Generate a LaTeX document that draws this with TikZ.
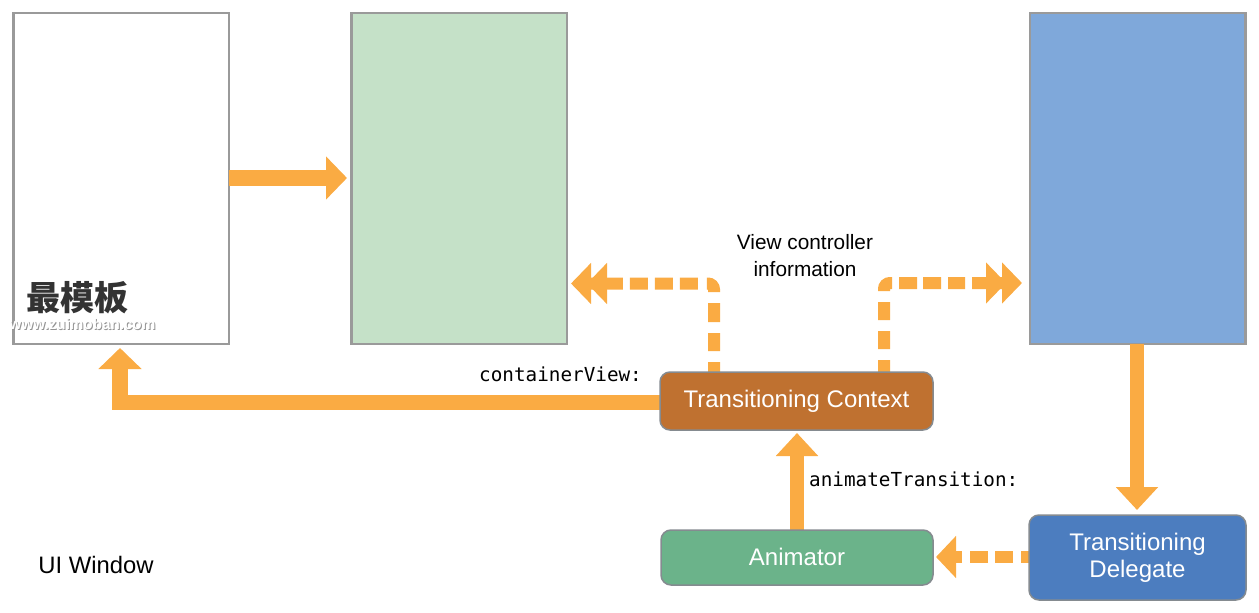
\documentclass[tikz,border=0pt]{standalone}
\usepackage{fontspec}
\setmainfont{Liberation Sans}
\setmonofont{DejaVu Sans Mono}
\newfontfamily\cjkfont{Noto Sans CJK SC}
\usetikzlibrary{arrows.meta,calc}
\definecolor{arrowc}{HTML}{FAAB43}
\definecolor{boxedge}{HTML}{9A9A9A}
\definecolor{roundedge}{HTML}{858B90}
\tikzset{
  x=1pt,y=-1pt,
  viewbox/.style={draw=boxedge,line width=2.5pt,minimum width=215.5pt,minimum height=331pt,inner sep=0pt,outer sep=0pt},
  rolebox/.style={draw=roundedge,line width=1.5pt,rounded corners=10pt,text=white,align=center,font=\fontsize{24}{27}\selectfont,inner sep=0pt,outer sep=0pt},
  label/.style={inner sep=0pt,align=center,font=\fontsize{20.8}{27}\selectfont},
  codelabel/.style={inner sep=0pt,font=\ttfamily\fontsize{19.3}{23}\selectfont},
  bigflow/.style={draw=arrowc,line width=15.5pt,-{Triangle[length=21pt,width=42pt]}},
  smallflow/.style={draw=arrowc,line width=14.5pt,-{Triangle[length=23pt,width=41pt]}},
  infoflow/.style={draw=arrowc,line width=12pt,rounded corners=6pt,-{Triangle[length=20pt,width=40pt,sep=-4pt]Triangle[length=20pt,width=40pt]}},
}
\begin{document}
\begin{tikzpicture}
\useasboundingbox (0,0) rectangle (1259,613);
% view boxes
\node[viewbox,fill=white] (fromview) at (121,178.5) {};
\node[viewbox,fill={rgb,255:red,197;green,225;blue,200}] (toview) at (459,178.5) {};
\node[viewbox,fill={rgb,255:red,127;green,168;blue,218}] (presenting) at (1137.5,178.5) {};
% free ends
\coordinate (tochead) at (347,178);
\coordinate (upcorner) at (120,402.5);
\coordinate (uptip) at (120,348);
\coordinate (lcorner) at (714,283.5);
\coordinate (ltip) at (571,283.5);
\coordinate (rcorner) at (884,283);
\coordinate (rtip) at (1022,283);
\coordinate (dntip) at (1137,510);
\coordinate (uptc) at (797,433);
\coordinate (antip) at (936,557);
% role nodes positions
\coordinate (tcpos) at (796.5,401);
\coordinate (anpos) at (797,557.5);
\coordinate (tdpos) at (1137.5,557.5);
% connectors (under the nodes)
\draw[bigflow] (fromview.east |- tochead) -- (tochead);
\draw[bigflow] (tcpos |- upcorner) -- (upcorner) -- (uptip);
\draw[infoflow,dash pattern=on 10pt off 11pt on 18pt off 11pt on 19pt off 11pt on 13pt off 9pt on 18pt off 7pt on 18pt off 7pt on 18pt off 7pt on 80pt]
  (714,372) -- (lcorner) -- (ltip);
\draw[infoflow,dash pattern=on 12pt off 11pt on 18pt off 11pt on 18pt off 11pt on 13.4pt off 7pt on 18pt off 6pt on 18pt off 7pt on 17pt off 7pt on 80pt]
  (884,372) -- (rcorner) -- (rtip);
\draw[smallflow] (presenting.south -| dntip) -- (dntip);
\draw[smallflow] (uptc |- anpos) -- (uptc);
\draw[draw=arrowc,line width=12.5pt,dash pattern=on 9pt off 8pt on 18pt off 7pt on 18pt off 8pt on 60pt,-{Triangle[length=20pt,width=41pt]}] (1030,557) -- (antip);
% role nodes
\node[rolebox,fill={rgb,255:red,191;green,113;blue,48},minimum width=273pt,minimum height=58pt] (tc) at (tcpos) {\raisebox{-1pt}{Transitioning Context}};
\node[rolebox,fill={rgb,255:red,107;green,179;blue,138},minimum width=272pt,minimum height=55pt] (an) at (anpos) {\raisebox{1pt}{Animator}};
\node[rolebox,fill={rgb,255:red,76;green,125;blue,191},minimum width=217pt,minimum height=85pt] (td) at (tdpos) {Transitioning\\Delegate};
% labels
\node[label] (vci) at (805,256) {View controller\\information};
\node[label,font=\fontsize{23.8}{27}\selectfont] (uiw) at (96,565) {UI Window};
\node[codelabel,anchor=base west] (cv) at (479,381) {containerView:};
\node[codelabel,anchor=base west] (at) at (809,486) {animateTransition:};
% watermark
\node[inner sep=0pt,text={rgb,255:red,51;green,51;blue,51},font=\cjkfont\bfseries\fontsize{34}{38}\selectfont] (wm) at (78,298) {最模板};
\node[inner sep=0pt,text=black!42,font=\bfseries\fontsize{15.2}{18}\selectfont] (wms) at (83.5,325.5) {www.zuimoban.com};
\node[inner sep=0pt,text=white,font=\bfseries\fontsize{15.2}{18}\selectfont] (wmt) at (82.5,324) {www.zuimoban.com};
\end{tikzpicture}
\end{document}
